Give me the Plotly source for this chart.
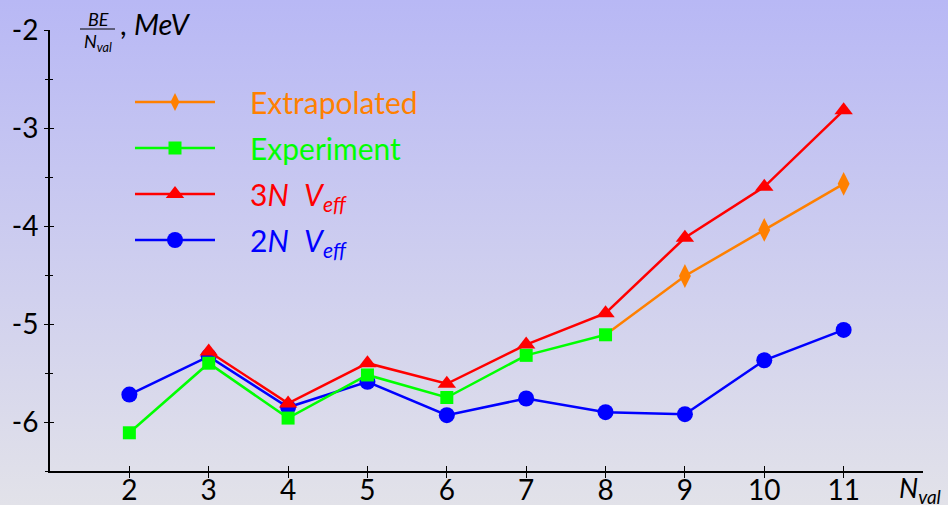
import base64
import plotly.graph_objects as go

# ---- data ----
n_2n = [2, 3, 4, 5, 6, 7, 8, 9, 10, 11]
be_2n = [-5.72, -5.33, -5.85, -5.59, -5.93, -5.76, -5.90, -5.92, -5.37, -5.06]

n_3n = [3, 4, 5, 6, 7, 8, 9, 10, 11]
be_3n = [-5.28, -5.81, -5.40, -5.61, -5.21, -4.89, -4.12, -3.60, -2.82]

n_exp = [2, 3, 4, 5, 6, 7, 8]
be_exp = [-6.11, -5.40, -5.96, -5.52, -5.75, -5.32, -5.11]

n_extra = [8, 9, 10, 11]
be_extra = [-5.11, -4.51, -4.04, -3.57]

x_ticks = [2, 3, 4, 5, 6, 7, 8, 9, 10, 11]
y_ticks = [-2, -3, -4, -5, -6]
y_ticktext = ["-2", "-3", "-4", "-5", "-6"]

FONT = "Lato"
W, H = 948, 505
ML, MR, MT, MB = 50, 25, 30, 34
PW, PH = W - ML - MR, H - MT - MB
PAD = "\u2002\u2002"

fig = go.Figure()

def add(x, y, color, symbol, size, name, rank):
    fig.add_trace(go.Scatter(
        x=x, y=y, mode="lines+markers", name=PAD + name, legendrank=rank,
        legendgroup=name,
        line=dict(color=color, width=2.5),
        marker=dict(color=color, symbol=symbol, size=size, opacity=1, line=dict(width=0)),
        hoverinfo="skip"))

add(n_2n, be_2n, "#0000ff", "circle", 16,
    "<span style='color:#0000ff'>2<i>N</i>  <i>V</i><sub><i>eff</i></sub></span>", 4)
add(n_3n, be_3n, "#ff0000", "triangle-up", 16,
    "<span style='color:#ff0000'>3<i>N</i>  <i>V</i><sub><i>eff</i></sub></span>", 3)
add(n_extra, be_extra, "#ff8000", "diamond-tall", 17,
    "<span style='color:#ff8000'>Extrapolated</span>", 1)
# the extrapolation starts from the last measured point: no diamond there
fig.data[-1].marker.size = [0 if x in n_exp else 17 for x in n_extra]
add(n_exp, be_exp, "#00ff00", "square", 13,
    "<span style='color:#00ff00'>Experiment</span>", 2)

# invisible trace for overlay axes (inside ticks)
fig.add_trace(go.Scatter(x=[], y=[], xaxis="x2", yaxis="y2", showlegend=False))

# background gradient
svg = (f'<svg xmlns="http://www.w3.org/2000/svg" width="{W}" height="{H}">'
       '<defs><linearGradient id="g" x1="0" y1="0" x2="0" y2="1">'
       '<stop offset="0" stop-color="#b8b8f5"/><stop offset="1" stop-color="#e2e2e9"/>'
       '</linearGradient></defs>'
       f'<rect width="{W}" height="{H}" fill="url(#g)"/></svg>')
src = "data:image/svg+xml;base64," + base64.b64encode(svg.encode()).decode()

fig.update_layout(
    width=W, height=H,
    margin=dict(l=ML, r=MR, t=MT, b=MB, autoexpand=False),
    paper_bgcolor="rgba(0,0,0,0)", plot_bgcolor="rgba(0,0,0,0)",
    font=dict(family=FONT, size=28, color="black"),
    images=[dict(source=src, xref="paper", yref="paper",
                 x=-ML / PW, y=1 + MT / PH, sizex=W / PW, sizey=H / PH,
                 xanchor="left", yanchor="top", sizing="stretch", layer="below")],
    showlegend=True,
    legend=dict(x=(130 - ML) / PW, y=(H - MB - 76) / PH, xanchor="left", yanchor="top",
                bgcolor="rgba(0,0,0,0)", font=dict(size=30, family=FONT),
                tracegroupgap=4, itemwidth=80),
    xaxis=dict(range=[1, 12], tickvals=x_ticks, ticks="outside", ticklen=5,
               tickwidth=1.2, tickcolor="black", automargin=False,
               ticklabelstandoff=-12,
               showline=True, linecolor="black", linewidth=2, showgrid=False,
               zeroline=False, tickfont=dict(size=28, family=FONT)),
    yaxis=dict(range=[-6.5, -2], tickvals=y_ticks, ticktext=y_ticktext,
               ticks="outside", ticklen=4, tickwidth=1.2, tickcolor="black",
               automargin=False,
               minor=dict(dtick=0.5, ticks="outside", ticklen=3, tickcolor="black", tickwidth=1),
               showline=True, linecolor="black", linewidth=2, showgrid=False,
               zeroline=False, tickfont=dict(size=28, family=FONT)),
    xaxis2=dict(range=[1, 12], overlaying="x", tickvals=x_ticks, ticks="inside",
                ticklen=5, tickwidth=1.2, tickcolor="black", showticklabels=False,
                automargin=False,
                showline=False, showgrid=False, zeroline=False, anchor="y2", side="bottom"),
    yaxis2=dict(range=[-6.5, -2], overlaying="y", tickvals=y_ticks, ticks="inside",
                ticklen=4, tickwidth=1.2, tickcolor="black", showticklabels=False,
                automargin=False,
                minor=dict(dtick=0.5, ticks="inside", ticklen=3, tickcolor="black", tickwidth=1),
                showline=False, showgrid=False, zeroline=False, anchor="x2", side="left"),
)

# y-axis title: BE / N_val , MeV
fx = (98 - ML) / PW
fig.add_annotation(text="<i>BE</i>", xref="paper", yref="paper", x=fx, y=1 + (MT - 19) / PH,
                   showarrow=False, font=dict(size=18, family=FONT), xanchor="center", yanchor="middle")
fig.add_shape(type="line", xref="paper", yref="paper",
              x0=(80 - ML) / PW, x1=(115 - ML) / PW,
              y0=1 + (MT - 29) / PH, y1=1 + (MT - 29) / PH,
              line=dict(color="black", width=1))
fig.add_annotation(text="<i>N</i><sub><i>val</i></sub>", xref="paper", yref="paper",
                   x=fx, y=1 + (MT - 42) / PH,
                   showarrow=False, font=dict(size=18, family=FONT), xanchor="center", yanchor="middle")
fig.add_annotation(text=", <i>MeV</i>", xref="paper", yref="paper",
                   x=(118 - ML) / PW, y=1 + (MT - 23) / PH,
                   showarrow=False, font=dict(size=29, family=FONT), xanchor="left", yanchor="middle")
# x-axis title
fig.add_annotation(text="<i>N</i><sub><i>val</i></sub>", xref="paper", yref="paper",
                   x=(897 - ML) / PW, y=-(489 - (H - MB)) / PH,
                   showarrow=False, font=dict(size=27, family=FONT), xanchor="left", yanchor="middle")

fig.write_html("out.html")
